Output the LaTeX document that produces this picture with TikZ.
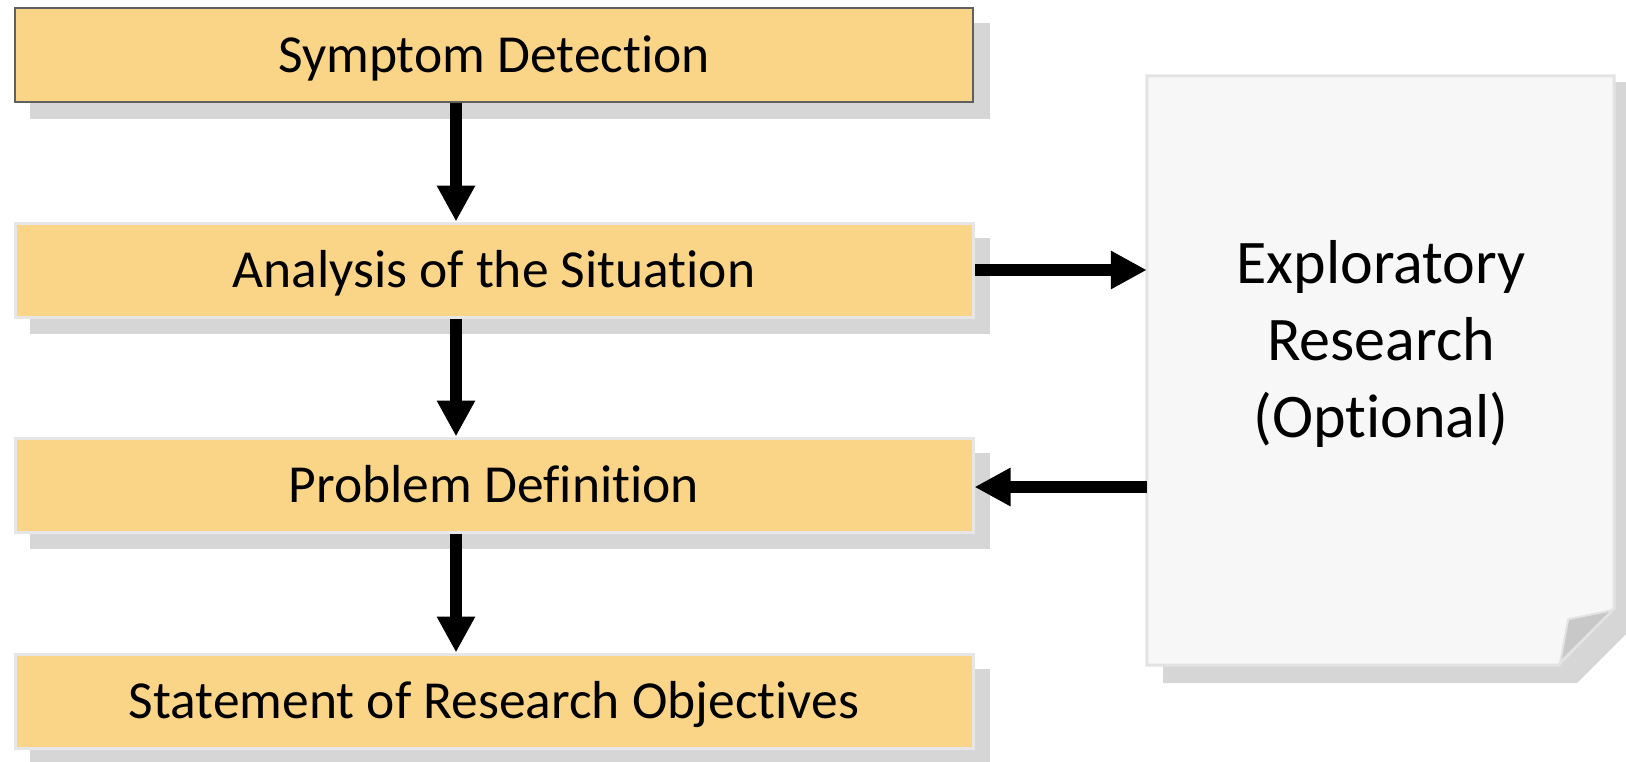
\documentclass[tikz,border=0pt]{standalone}
\usepackage{fontspec}
\setmainfont[RawFeature={-liga;-clig;-dlig}]{Carlito}
\usetikzlibrary{arrows.meta}
\definecolor{boxfill}{HTML}{FAD587}
\definecolor{boxline}{HTML}{E6E6E6}
\definecolor{shadowc}{HTML}{D6D6D6}
\definecolor{docfill}{HTML}{F7F7F7}
\definecolor{docline}{HTML}{E3E3E3}
\definecolor{flapc}{HTML}{C8C8C8}
\definecolor{topline}{HTML}{606060}
\begin{document}
\begin{tikzpicture}[x=1pt,y=-1pt,
 stepbox/.style={draw=boxline, line width=3pt, fill=boxfill, minimum width=958pt, minimum height=94pt, inner sep=0pt, font=\fontsize{53.5}{64}\selectfont, text height=34pt, text depth=0pt},
 shadowbox/.style={fill=shadowc, draw=none, minimum width=960pt, minimum height=96pt, inner sep=0pt},
 arr/.style={line width=12pt, -{Triangle[length=36pt,width=36pt]}},
 doctext/.style={align=center, font=\fontsize{62}{77}\selectfont, inner sep=0pt},
]
\useasboundingbox (0,0) rectangle (1626,761);
\fill[white] (0,0) rectangle (1626,761);
% shadows
\node[shadowbox] (s1) at (510,71) {};
\node[shadowbox] (s2) at (510,286) {};
\node[shadowbox] (s3) at (510,501) {};
\node[shadowbox] (s4) at (510,717) {};
% document anchor box
\node[minimum width=467pt, minimum height=589pt, inner sep=0pt] (doc) at (1380.5,370.5) {};
% document shadow
\fill[shadowc] (1163,82) -- (1640,82) -- (1640,620) -- (1577,683) -- (1163,683) -- cycle;
% document
\draw[docline, fill=docfill, line width=3pt, line join=miter]
  (doc.north west) -- (doc.north east) -- ([yshift=57pt]doc.south east)
  -- ([xshift=-56pt]doc.south east) -- (doc.south west) -- cycle;
\draw[docline, fill=flapc, line width=2pt, line join=round]
  ([xshift=-54pt,yshift=3pt]doc.south east) -- ([xshift=-46pt,yshift=46pt]doc.south east)
  -- ([xshift=-2pt,yshift=55pt]doc.south east) -- cycle;
\node[doctext] (dt) at (1381,344) {Exploratory\\Research\\(Optional)};
% boxes
\node[stepbox, draw=topline, line width=2pt] (b1) at (494,55) {Symptom Detection};
\node[stepbox] (b2) at (494,270) {Analysis of the Situation};
\node[stepbox] (b3) at (494,485) {Problem Definition};
\node[stepbox] (b4) at (494,701) {Statement of Research Objectives};
% arrows
\coordinate (ax) at (456,0);
\draw[arr] (b1.south -| ax) -- (b2.north -| ax);
\draw[arr] (b2.south -| ax) -- (b3.north -| ax);
\draw[arr] (b3.south -| ax) -- (b4.north -| ax);
\draw[arr] (b2.east) -- (b2.east -| doc.west);
\draw[arr] ([yshift=-2pt]b3.east -| doc.west) -- ([yshift=-2pt]b3.east);
\end{tikzpicture}
\end{document}
